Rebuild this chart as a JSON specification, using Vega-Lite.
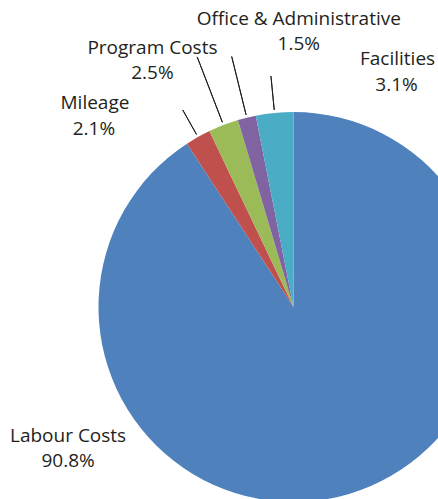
{
  "$schema": "https://vega.github.io/schema/vega-lite/v6.json",
  "width": 289,
  "height": 384,
  "autosize": "none",
  "padding": {"left": 149, "top": 115, "right": 0, "bottom": 0},
  "background": "white",
  "config": {"view": {"stroke": null}, "font": "Open Sans"},
  "data": {
    "values": [
      {"category": "Labour Costs", "value": 0.908},
      {"category": "Mileage", "value": 0.021},
      {"category": "Program Costs", "value": 0.025},
      {"category": "Office & Administrative", "value": 0.015},
      {"category": "Facilities", "value": 0.031}
    ]
  },
  "transform": [{"window": [{"op": "row_number", "as": "idx"}]}],
  "encoding": {
    "theta": {"field": "value", "type": "quantitative", "stack": true, "scale": {"domain": [0, 1]}},
    "order": {"field": "idx", "type": "quantitative"}
  },
  "layer": [
    {
      "mark": {"type": "arc", "outerRadius": 195},
      "encoding": {
        "color": {
          "field": "category",
          "type": "nominal",
          "scale": {
            "domain": ["Labour Costs", "Mileage", "Program Costs", "Office & Administrative", "Facilities"],
            "range": ["#4F81BD", "#C0504D", "#9BBB59", "#8064A2", "#4BACC6"]
          },
          "legend": null
        }
      }
    },
    {
      "transform": [
        {"stack": "value", "groupby": [], "sort": [{"field": "idx"}], "as": ["v0", "v1"]},
        {"fold": ["v0", "v1"], "as": ["edge", "pos"]},
        {"aggregate": [{"op": "mean", "field": "pos", "as": "mid"}], "groupby": ["category"]},
        {"filter": "datum.category != 'Labour Costs'"}
      ],
      "mark": {
        "type": "arc",
        "radius": {"expr": "datum.category == 'Mileage' ? 226 : datum.category == 'Program Costs' ? 268 : datum.category == 'Office & Administrative' ? 258 : 232"},
        "radius2": 198,
        "fill": null,
        "stroke": "#231F20",
        "strokeWidth": 1
      },
      "encoding": {
        "theta": {"field": "mid", "type": "quantitative", "scale": {"domain": [0, 1]}},
        "theta2": {"field": "mid"}
      }
    },
    {
      "mark": {
        "type": "text",
        "radius": 195,
        "align": "center",
        "baseline": "alphabetic",
        "fontSize": 19,
        "color": "#231F20",
        "dx": {"expr": "datum.category == 'Labour Costs' ? -281 : datum.category == 'Mileage' ? -103 : datum.category == 'Program Costs' ? -71 : datum.category == 'Office & Administrative' ? 52 : 123"},
        "dy": {"expr": "datum.category == 'Labour Costs' ? -52 : datum.category == 'Mileage' ? -28 : datum.category == 'Program Costs' ? -71 : datum.category == 'Office & Administrative' ? -93 : -48"}
      },
      "encoding": {"text": {"field": "category", "type": "nominal"}}
    },
    {
      "mark": {
        "type": "text",
        "radius": 195,
        "align": "center",
        "baseline": "alphabetic",
        "fontSize": 19,
        "color": "#231F20",
        "dx": {"expr": "datum.category == 'Labour Costs' ? -281 : datum.category == 'Mileage' ? -104 : datum.category == 'Program Costs' ? -71 : datum.category == 'Office & Administrative' ? 52 : 122"},
        "dy": {"expr": "datum.category == 'Labour Costs' ? -27 : datum.category == 'Mileage' ? -2 : datum.category == 'Program Costs' ? -46 : datum.category == 'Office & Administrative' ? -68 : -22"}
      },
      "encoding": {"text": {"field": "value", "type": "quantitative", "format": ".1%"}}
    }
  ]
}
